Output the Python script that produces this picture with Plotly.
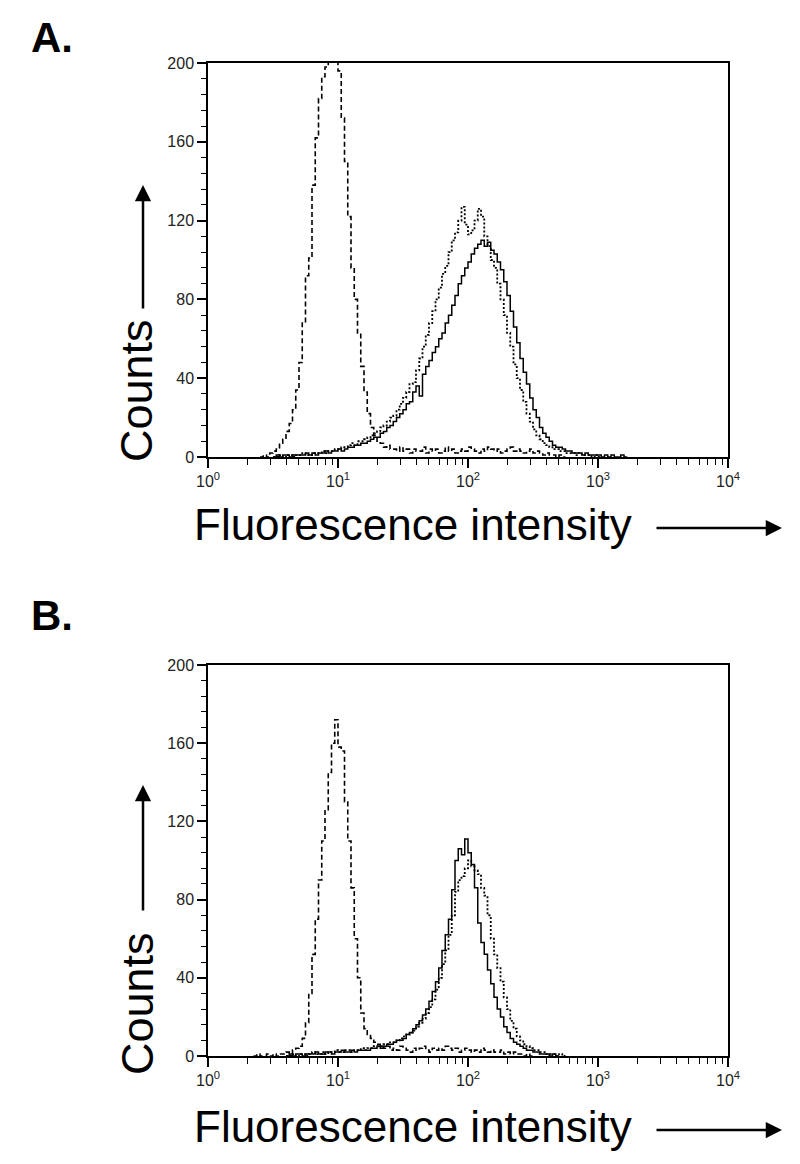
import numpy as np
import plotly.graph_objects as go

W, H = 800, 1164
PAGE_PAD = 8  # the browser's default body margin shifts the figure by this much

# histogram channels: 40 per decade, each series starts at its own log10 value
STEP = 0.025

# Panel A
A_CTRL_START = 0.40
A_CTRL = [0, 1, 0, 2, 3, 4, 7, 9, 13, 17, 24, 34, 48, 68, 92, 101, 138, 162, 182, 193,
          198, 212, 218, 210, 196, 172, 150, 122, 96, 80, 63, 46, 33, 22, 15, 11, 8, 7, 5, 6,
          4, 4, 3, 5, 3, 4, 2, 4, 3, 3, 5, 2, 4, 3, 4, 2, 3, 5, 3, 4, 2, 3, 4, 3, 5, 4, 3, 2,
          4, 3, 5, 4, 3, 4, 2, 3, 4, 5, 3, 4, 3, 2, 3, 4, 2, 3, 2, 1, 2, 1, 1, 0, 1, 0, 0]

A_SOLID_START = 0.50
A_SOLID = [0, 1, 0, 1, 1, 0, 1, 1, 1, 1, 2, 1, 2, 1, 2, 2, 3, 2, 3, 3,
           4, 3, 4, 5, 5, 6, 6, 7, 7, 8, 9, 10, 10, 12, 13, 15, 16, 18, 20, 22,
           24, 27, 28, 33, 36, 31, 42, 46, 49, 53, 56, 60, 63, 68, 72, 77, 82, 88, 92, 96,
           99, 103, 106, 108, 110, 107, 109, 105, 103, 99, 95, 89, 82, 74, 66, 58, 50, 43, 37, 30,
           24, 20, 15, 12, 10, 8, 6, 5, 5, 4, 3, 3, 2, 2, 2, 1, 2, 1, 1, 1,
           1, 0, 1, 0, 1, 0, 0, 1, 0, 0]

A_DOT_START = 0.50
A_DOT = [0, 0, 1, 0, 1, 1, 0, 1, 1, 2, 1, 1, 2, 2, 2, 3, 2, 3, 3, 4,
         4, 5, 5, 6, 7, 6, 8, 8, 9, 10, 11, 12, 13, 15, 16, 18, 20, 21, 24, 27,
         30, 33, 37, 38, 44, 50, 56, 62, 68, 74, 80, 86, 93, 97, 104, 110, 114, 120, 127, 118,
         113, 115, 120, 126, 122, 112, 107, 100, 96, 88, 80, 72, 63, 56, 47, 40, 34, 28, 22, 18,
         14, 11, 9, 7, 6, 5, 4, 4, 3, 3, 2, 2, 2, 1, 2, 1, 1, 1, 0, 1,
         0, 0]

# Panel B
B_CTRL_START = 0.35
B_CTRL = [0, 1, 0, 0, 1, 0, 1, 0, 1, 1, 2, 1, 3, 4, 5, 9, 17, 32, 52, 70,
          90, 110, 126, 145, 160, 172, 158, 156, 130, 110, 86, 60, 40, 22, 14, 11, 9, 7, 6, 5,
          4, 5, 3, 4, 3, 5, 4, 3, 2, 4, 3, 4, 5, 3, 2, 4, 3, 4, 3, 5,
          4, 3, 4, 2, 3, 4, 3, 2, 3, 2, 4, 3, 2, 3, 2, 2, 3, 1, 2, 1,
          2, 1, 1, 0, 1, 0, 0]

B_SOLID_START = 0.60
B_SOLID = [0, 1, 0, 1, 1, 0, 1, 1, 1, 2, 1, 1, 2, 2, 1, 2, 2, 3, 2, 2,
           3, 2, 3, 3, 3, 3, 4, 4, 5, 4, 5, 6, 6, 7, 8, 8, 9, 11, 12, 14,
           16, 18, 21, 24, 28, 33, 38, 45, 54, 62, 70, 85, 100, 106, 103, 111, 104, 98, 86, 68,
           58, 52, 44, 37, 30, 24, 20, 15, 12, 9, 7, 6, 5, 4, 3, 3, 2, 2, 1, 1,
           1, 0, 1, 0, 0]

B_DOT_START = 0.60
B_DOT = [0, 0, 1, 0, 1, 1, 0, 1, 2, 1, 1, 2, 1, 2, 2, 3, 2, 2, 3, 3,
         2, 3, 3, 4, 3, 4, 4, 5, 5, 5, 6, 6, 7, 7, 8, 9, 10, 11, 12, 13,
         15, 17, 19, 22, 25, 29, 34, 40, 47, 54, 62, 72, 84, 90, 92, 96, 100, 97, 95, 93,
         86, 82, 72, 60, 52, 45, 38, 30, 24, 18, 14, 10, 8, 6, 5, 4, 3, 3, 2, 2,
         1, 1, 1, 0, 1, 0, 0]

Y_TICKS = [0, 40, 80, 120, 160, 200]
X_TICKS = [1, 10, 100, 1000, 10000]
X_TICK_TEXT = ["10<sup>0</sup>", "10<sup>1</sup>", "10<sup>2</sup>", "10<sup>3</sup>", "10<sup>4</sup>"]


def px(x):
    return (x - PAGE_PAD) / W


def py(y):
    return 1 - (y - PAGE_PAD) / H


def channels(start, n):
    return [10 ** (start + STEP * i) for i in range(n)]


FONT = "Liberation Sans, Arial, sans-serif"

fig = go.Figure()

panels = [
    ("x", "y", (A_CTRL_START, A_CTRL), (A_SOLID_START, A_SOLID), (A_DOT_START, A_DOT)),
    ("x2", "y2", (B_CTRL_START, B_CTRL), (B_SOLID_START, B_SOLID), (B_DOT_START, B_DOT)),
]
for xa, ya, ctrl, solid, dot in panels:
    for (start, vals), dash, width in [
        (ctrl, "5px,3px", 1.6),
        (dot, "2px,2px", 1.8),
        (solid, "solid", 1.5),
    ]:
        fig.add_trace(go.Scatter(
            x=channels(start, len(vals)), y=vals, xaxis=xa, yaxis=ya,
            mode="lines", line=dict(color="black", width=width, dash=dash, shape="hv"),
            showlegend=False, hoverinfo="skip",
        ))

xax = dict(
    type="log", range=[0, 4], showgrid=False, zeroline=False, automargin=False,
    showline=True, linecolor="black", linewidth=2, mirror=True,
    ticks="outside", ticklen=9, tickwidth=1.5, tickcolor="black",
    tickvals=X_TICKS, ticktext=X_TICK_TEXT,
    tickfont=dict(family=FONT, size=16, color="#222"),
    minor=dict(ticks="outside", ticklen=6, tickwidth=1.2, tickcolor="black", dtick="D1", showgrid=False),
)
yax = dict(
    range=[0, 200], showgrid=False, zeroline=False, automargin=False,
    showline=True, linecolor="black", linewidth=1.5, mirror=True,
    ticks="outside", ticklen=9, tickwidth=1.5, tickcolor="black",
    tickvals=Y_TICKS, tickfont=dict(family=FONT, size=16, color="#222"),
    minor=dict(ticks="outside", ticklen=5, tickwidth=1.2, tickcolor="black", dtick=8, showgrid=False),
)

x_dom = [px(208), px(728)]
fig.update_layout(
    width=W, height=H,
    margin=dict(l=0, r=0, t=0, b=0, autoexpand=False),
    paper_bgcolor="white", plot_bgcolor="white",
    xaxis=dict(xax, domain=x_dom, anchor="y"),
    yaxis=dict(yax, domain=[py(457), py(63)], anchor="x"),
    xaxis2=dict(xax, domain=x_dom, anchor="y2"),
    yaxis2=dict(yax, domain=[py(1056), py(665)], anchor="x2"),
)

annotations = []
for label, ly, counts_y, arrow_top, arrow_bot, fl_y in [
    ("A.", 37, 391, 185, 310, 524),
    ("B.", 615, 1004, 785, 912, 1126),
]:
    annotations.append(dict(
        x=px(29), y=py(ly), xref="paper", yref="paper", text="<b>%s</b>" % label,
        showarrow=False, xanchor="left", yanchor="middle",
        font=dict(family=FONT, size=42, color="black"),
    ))
    annotations.append(dict(
        x=px(137), y=py(counts_y), xref="paper", yref="paper", text="Counts",
        showarrow=False, textangle=-90, xanchor="center", yanchor="middle",
        font=dict(family=FONT, size=45, color="black"),
    ))
    annotations.append(dict(
        x=px(143), y=py(arrow_top), xref="paper", yref="paper", text="",
        showarrow=True, ax=0, ay=arrow_bot - arrow_top, arrowhead=2,
        arrowsize=1.3, arrowwidth=2.5, arrowcolor="black",
    ))
    annotations.append(dict(
        x=px(413), y=py(fl_y), xref="paper", yref="paper", text="Fluorescence intensity",
        showarrow=False, xanchor="center", yanchor="middle",
        font=dict(family=FONT, size=44, color="black"),
    ))
    annotations.append(dict(
        x=px(782), y=py(fl_y + 4), xref="paper", yref="paper", text="",
        showarrow=True, ax=-127, ay=0, arrowhead=2,
        arrowsize=1.3, arrowwidth=2.5, arrowcolor="black",
    ))
fig.update_layout(annotations=annotations)

fig.write_html("out.html")
